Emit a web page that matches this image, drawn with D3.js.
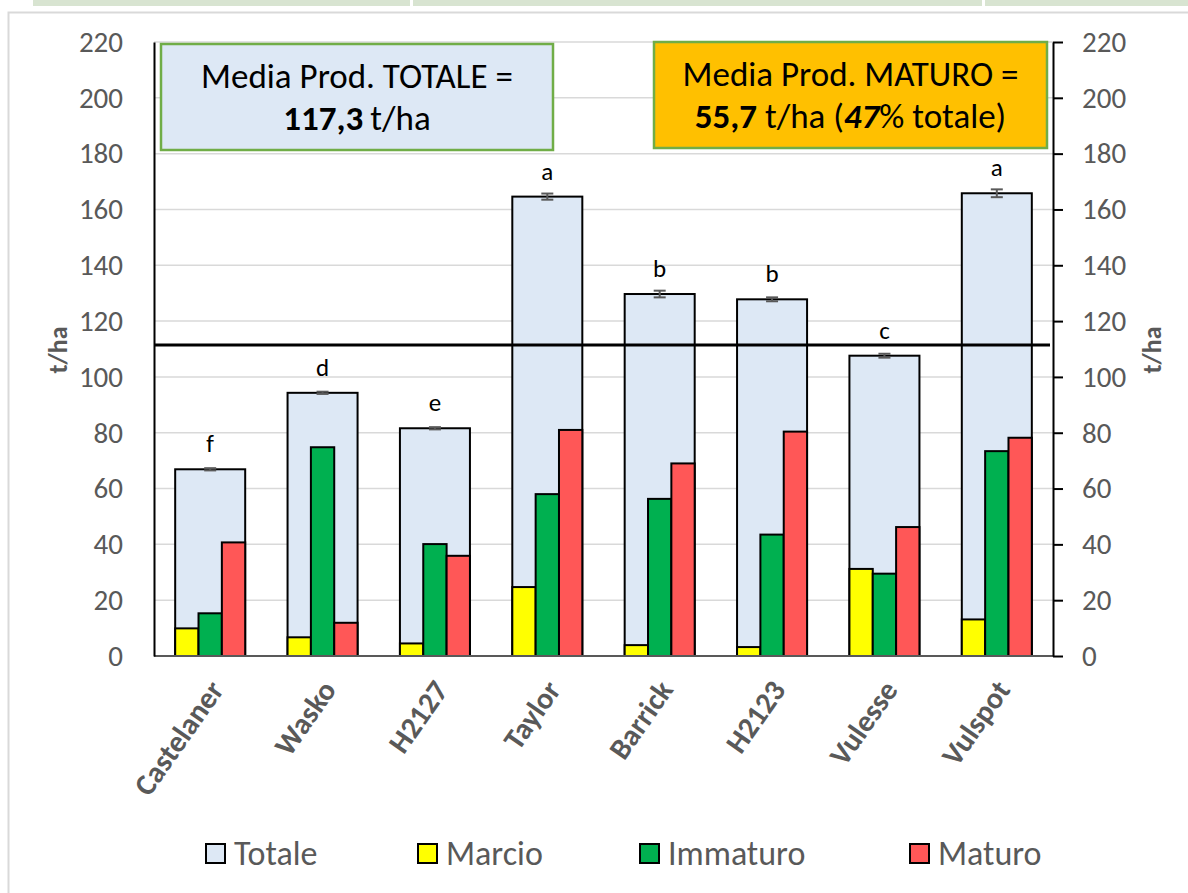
<!DOCTYPE html>
<html><head><meta charset="utf-8">
<script src="https://cdn.jsdelivr.net/npm/d3@7"></script>
<style>
body{margin:0;background:#fff;}
svg{display:block;font-family:Carlito,Lato,sans-serif;}
</style>
</head><body>
<svg id="c" width="1188" height="893"></svg>
<script>
// ---- data ----
const categories = ["Castelaner","Wasko","H2127","Taylor","Barrick","H2123","Vulesse","Vulspot"];
const totale    = [66.9, 94.3, 81.6, 164.6, 129.7, 127.8, 107.6, 165.8];
const totaleErr = [0.4, 0.4, 0.4, 1.1, 1.2, 0.7, 0.7, 1.4];
const marcio    = [9.9, 6.7, 4.5, 24.7, 3.9, 3.2, 31.2, 13.1];
const immaturo  = [15.3, 74.8, 40.1, 58.0, 56.3, 43.5, 29.5, 73.4];
const maturo    = [40.7, 11.9, 35.9, 81.0, 69.0, 80.4, 46.2, 78.2];
const letters   = ["f","d","e","a","b","b","c","a"];
const meanLine  = 111.4;
const yTicks    = [0,20,40,60,80,100,120,140,160,180,200,220];
const seriesNames  = ["Totale","Marcio","Immaturo","Maturo"];
const seriesColors = ["#dde8f5","#ffff00","#00b050","#ff5757"];
const yTitle = "t/ha";

// ---- layout ----
const svg = d3.select("#c");
const L = 154, R = 1053, T = 42, B = 656;
const x = d3.scaleBand().domain(categories).range([L, R]).paddingInner(0.377).paddingOuter(0.1885);
const y = d3.scaleLinear().domain([0, 220]).range([B, T]);
const bw = x.bandwidth();

// top strip and frame
const strip = svg.append("g");
strip.append("rect").attr("x",33).attr("y",0).attr("width",1155).attr("height",6).attr("fill","#d8e4d1");
[410, 982].forEach(sx => strip.append("rect").attr("x",sx).attr("y",0).attr("width",3).attr("height",6).attr("fill","#fff"));
svg.append("path").attr("d","M1188,12.5 H8.5 V893").attr("fill","none").attr("stroke","#d9d9d9").attr("stroke-width",2);

// gridlines
svg.append("g").selectAll("line").data(yTicks).join("line")
  .attr("x1", L).attr("x2", R).attr("y1", d => y(d)).attr("y2", d => y(d))
  .attr("stroke", "#d9d9d9").attr("stroke-width", 1.5);

// Totale bars
const g = svg.append("g");
g.selectAll("rect.tot").data(categories).join("rect").attr("class","tot")
  .attr("x", d => x(d)).attr("width", bw)
  .attr("y", (d,i) => y(totale[i])).attr("height", (d,i) => y(0) - y(totale[i]))
  .attr("fill", seriesColors[0]).attr("stroke","#000").attr("stroke-width",2);

// sub bars
[marcio, immaturo, maturo].forEach((arr, k) => {
  g.selectAll("rect.s"+k).data(categories).join("rect").attr("class","s"+k)
    .attr("x", d => x(d) + k*bw/3).attr("width", bw/3)
    .attr("y", (d,i) => y(arr[i])).attr("height", (d,i) => y(0) - y(arr[i]))
    .attr("fill", seriesColors[k+1]).attr("stroke","#000").attr("stroke-width",2);
});

// error bars
const eb = svg.append("g").attr("stroke","#595959").attr("stroke-width",2);
categories.forEach((c,i) => {
  const cx = x(c) + bw/2;
  const y1 = y(totale[i] + totaleErr[i]), y2 = y(totale[i] - totaleErr[i]);
  eb.append("line").attr("x1",cx).attr("x2",cx).attr("y1",y1).attr("y2",y2);
  eb.append("line").attr("x1",cx-6).attr("x2",cx+6).attr("y1",y1).attr("y2",y1);
  eb.append("line").attr("x1",cx-6).attr("x2",cx+6).attr("y1",y2).attr("y2",y2);
});

// letters
svg.append("g").selectAll("text").data(categories).join("text")
  .attr("x", d => x(d) + bw/2).attr("y", (d,i) => y(totale[i]) - 17)
  .attr("text-anchor","middle").attr("font-size",25).attr("fill","#000")
  .text((d,i) => letters[i]);

// mean line
svg.append("line").attr("x1", L).attr("x2", R - 3).attr("y1", y(meanLine)).attr("y2", y(meanLine))
  .attr("stroke","#000").attr("stroke-width",3);

// x axis line
svg.append("line").attr("x1", L).attr("x2", R).attr("y1", B).attr("y2", B)
  .attr("stroke","#595959").attr("stroke-width",2);

// left axis
const ya = svg.append("g").attr("transform",`translate(${L},0)`)
  .call(d3.axisLeft(y).tickValues(yTicks).tickSize(0).tickPadding(31));
ya.select(".domain").attr("stroke","#000").attr("stroke-width",2);
ya.selectAll("text").attr("font-size",29).attr("fill","#595959").attr("font-family","Carlito,Lato,sans-serif");

// right axis
const yr = svg.append("g").attr("transform",`translate(${R},0)`)
  .call(d3.axisRight(y).tickValues(yTicks).tickSize(10).tickPadding(19).tickSizeOuter(0));
yr.select(".domain").attr("stroke","#000").attr("stroke-width",2);
yr.selectAll("line").attr("stroke","#000").attr("stroke-width",2);
yr.selectAll("text").attr("font-size",29).attr("fill","#595959").attr("font-family","Carlito,Lato,sans-serif");

// axis titles
[[58],[1152]].forEach(([tx]) => {
  svg.append("text").attr("transform",`translate(${tx},350) rotate(-90)`)
    .attr("text-anchor","middle").attr("dy","0.35em")
    .attr("font-size",26).attr("font-weight","bold").attr("fill","#595959").text(yTitle);
});

// x labels
svg.append("g").selectAll("text").data(categories).join("text")
  .attr("transform", d => `translate(${x(d)+bw/2+6},684) rotate(-55)`)
  .attr("text-anchor","end").attr("dy","0.35em")
  .attr("font-size",30).attr("font-weight","bold").attr("fill","#595959")
  .text(d => d);

// annotation boxes
function box(bx, by, bwid, bh, fill, lines) {
  svg.append("rect").attr("x",bx).attr("y",by).attr("width",bwid).attr("height",bh)
    .attr("fill",fill).attr("stroke","#70ad47").attr("stroke-width",2.5);
  lines.forEach(([ly, parts]) => {
    const t = svg.append("text").attr("x", bx + bwid/2).attr("y", ly)
      .attr("text-anchor","middle").attr("font-size",35).attr("fill","#000");
    parts.forEach(p => t.append("tspan").attr("font-weight", p.b ? "bold" : null)
      .attr("font-style", p.i ? "italic" : null).text(p.t));
  });
}
box(161, 44, 392, 106, "#dde8f5", [
  [88, [{t:"Media Prod. TOTALE ="}]],
  [130, [{t:"117,3", b:1}, {t:"\u2009t/ha"}]]
]);
box(654, 42, 393, 106, "#ffc000", [
  [86, [{t:"Media Prod. MATURO ="}]],
  [128, [{t:"55,7", b:1}, {t:" t/ha ("}, {t:"47", b:1, i:1}, {t:"% totale)"}]]
]);

// legend
const legX = [206, 418, 640, 910];
const lg = svg.append("g");
seriesNames.forEach((n, i) => {
  lg.append("rect").attr("x", legX[i]).attr("y", 844).attr("width", 19).attr("height", 19)
    .attr("fill", seriesColors[i]).attr("stroke","#000").attr("stroke-width",2);
  lg.append("text").attr("x", legX[i] + 28).attr("y", 865)
    .attr("font-size",34).attr("fill","#595959").text(n);
});
</script>
</body></html>
